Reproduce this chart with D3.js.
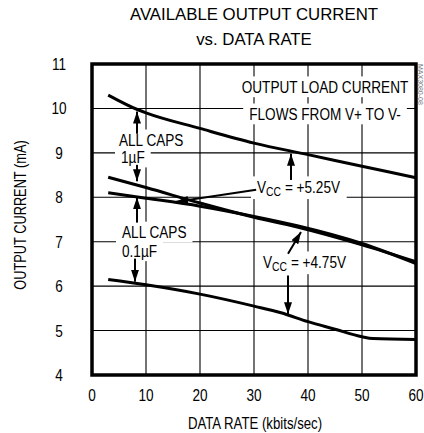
<!DOCTYPE html>
<html><head><meta charset="utf-8">
<script src="https://cdn.jsdelivr.net/npm/d3@7"></script>
<style>
html,body{margin:0;padding:0;background:#fff;}
svg{display:block;}
text{font-family:"Liberation Sans",Arial,sans-serif;fill:#000;}
</style></head>
<body>
<svg id="c" width="424" height="433"></svg>
<script>
// ---- data ----
const xTicks = [0, 10, 20, 30, 40, 50, 60];
const yTicks = [4, 5, 6, 7, 8, 9, 10, 11];
const curveTop = [[3,10.3],[8.5,9.97],[10,9.9],[20,9.55],[30,9.22],[40,8.96],[50,8.7],[60,8.44]];
const curveA = [[3,8.45],[10,8.22],[20,7.87],[30,7.55],[38,7.33],[50,6.93],[60,6.55]];
const curveB = [[3,8.1],[10,7.98],[20,7.8],[30,7.57],[38,7.36],[50,6.96],[60,6.51]];
const curveBottom = [[3,6.15],[10,6.03],[20,5.82],[30,5.55],[35,5.4],[40,5.2],[45,5.03],[50,4.86],[52,4.82],[60,4.8]];
const titleLines = ["AVAILABLE OUTPUT CURRENT", "vs. DATA RATE"];
const xTitle = "DATA RATE (kbits/sec)";
const yTitle = "OUTPUT CURRENT (mA)";
// annotations: text, anchor point in data units
const notes = [
  {t:"OUTPUT LOAD CURRENT", x:43.15, y:10.35, anchor:"middle"},
  {t:"FLOWS FROM V+ TO V-", x:43.15, y:9.74, anchor:"middle"},
  {t:"ALL CAPS", x:5.0, y:9.155, anchor:"start"},
  {t:"1µF", x:5.37, y:8.77, anchor:"start"},
  {t:"ALL CAPS", x:5.56, y:7.08, anchor:"start"},
  {t:"0.1µF", x:5.56, y:6.66, anchor:"start"}
];
const vccNotes = [
  {sub:"CC", rest:" = +5.25V", x:30.56, y:8.10},
  {sub:"CC", rest:" = +4.75V", x:31.67, y:6.41}
];
// arrows [x1,y1,x2(tip),y2(tip)] in data units
const arrows = [
  [8.33,9.43,8.33,9.93],
  [8.33,8.73,8.33,8.36],
  [8.33,7.43,8.33,8.0],
  [7.96,6.62,7.96,6.10],
  [36.85,8.39,36.85,8.98],
  [30.4,8.17,15.6,7.90],
  [36.3,6.73,38.7,7.22],
  [36.3,6.24,36.3,5.37]
];
const sideLabel = "MAX3080-08";

// ---- chart ----
const svg = d3.select("#c");
const x = d3.scaleLinear().domain([0,60]).range([92,416]);
const y = d3.scaleLinear().domain([4,11]).range([375,64]);

function ntext(parent, px, py, str, anchor, size, sx, extra){
  const g = parent.append("g").attr("transform",`translate(${px},${py}) ${extra||""} scale(${sx},1)`);
  return g.append("text").attr("text-anchor",anchor).style("font-size",size+"px").text(str);
}

// title
titleLines.forEach((s,i)=>{
  svg.append("text").attr("x",254).attr("y",20+i*25).attr("text-anchor","middle")
    .style("font-size","16.8px").text(s);
});

// grid
const g = svg.append("g");
g.selectAll("line.vx").data(xTicks.slice(1,-1)).enter().append("line")
  .attr("x1",d=>x(d)).attr("x2",d=>x(d)).attr("y1",y(11)).attr("y2",y(4))
  .attr("stroke","#000").attr("stroke-width",1.1);
g.selectAll("line.hy").data(yTicks.slice(1,-1)).enter().append("line")
  .attr("x1",x(0)).attr("x2",x(60)).attr("y1",d=>y(d)).attr("y2",d=>y(d))
  .attr("stroke","#000").attr("stroke-width",1.1);

// axis labels
xTicks.forEach(d=>ntext(svg, x(d), 401, String(d), "middle", 17, 0.8));
yTicks.forEach(d=>ntext(svg, 59, y(d)+6, String(d), "middle", 17, 0.8));
ntext(svg, 255, 429, xTitle, "middle", 16.5, 0.8);
ntext(svg, 26, 215, yTitle, "middle", 16, 0.8, "rotate(-90)");

// annotation text with white knock-out boxes
const boxes = svg.append("g");
const ann = svg.append("g");
function boxed(node){
  const b = node.getBoundingClientRect();
  boxes.append("rect")
    .attr("x",b.left-6).attr("y",b.top-1).attr("width",b.width+12).attr("height",b.height+2)
    .attr("fill","#fff");
}
notes.forEach(d=>{
  const t = ntext(ann, x(d.x), y(d.y), d.t, d.anchor, 17, 0.8);
  boxed(t.node());
});
vccNotes.forEach(d=>{
  const t = ntext(ann, x(d.x), y(d.y), null, "start", 17, 0.8);
  t.append("tspan").text("V");
  t.append("tspan").attr("dy",3).style("font-size","13px").text(d.sub);
  t.append("tspan").attr("dy",-3).text(d.rest);
  boxed(t.node());
});

// curves
const line = d3.line().x(d=>x(d[0])).y(d=>y(d[1])).curve(d3.curveMonotoneX);
svg.selectAll("path.c").data([curveTop,curveA,curveB,curveBottom]).enter().append("path")
  .attr("d",line).attr("fill","none").attr("stroke","#000").attr("stroke-width",3)
  .attr("stroke-linejoin","round");

// arrows
svg.append("defs").append("marker").attr("id","ah")
  .attr("viewBox","0 0 12 8").attr("refX",12).attr("refY",4)
  .attr("markerWidth",6).attr("markerHeight",4).attr("markerUnits","strokeWidth")
  .attr("orient","auto")
  .append("path").attr("d","M0,0 L12,4 L0,8 z").attr("fill","#000");
svg.selectAll("line.ar").data(arrows).enter().append("line")
  .attr("x1",d=>x(d[0])).attr("y1",d=>y(d[1])).attr("x2",d=>x(d[2])).attr("y2",d=>y(d[3]))
  .attr("stroke","#000").attr("stroke-width",2).attr("marker-end","url(#ah)");

// frame
svg.append("rect").attr("x",x(0)).attr("y",y(11)).attr("width",x(60)-x(0)).attr("height",y(4)-y(11))
  .attr("fill","none").attr("stroke","#000").attr("stroke-width",3.5);

// side id
svg.append("text").attr("transform","translate(418,64) rotate(90)")
  .style("font-size","7px").style("fill","#777").text(sideLabel);
</script>
</body></html>
